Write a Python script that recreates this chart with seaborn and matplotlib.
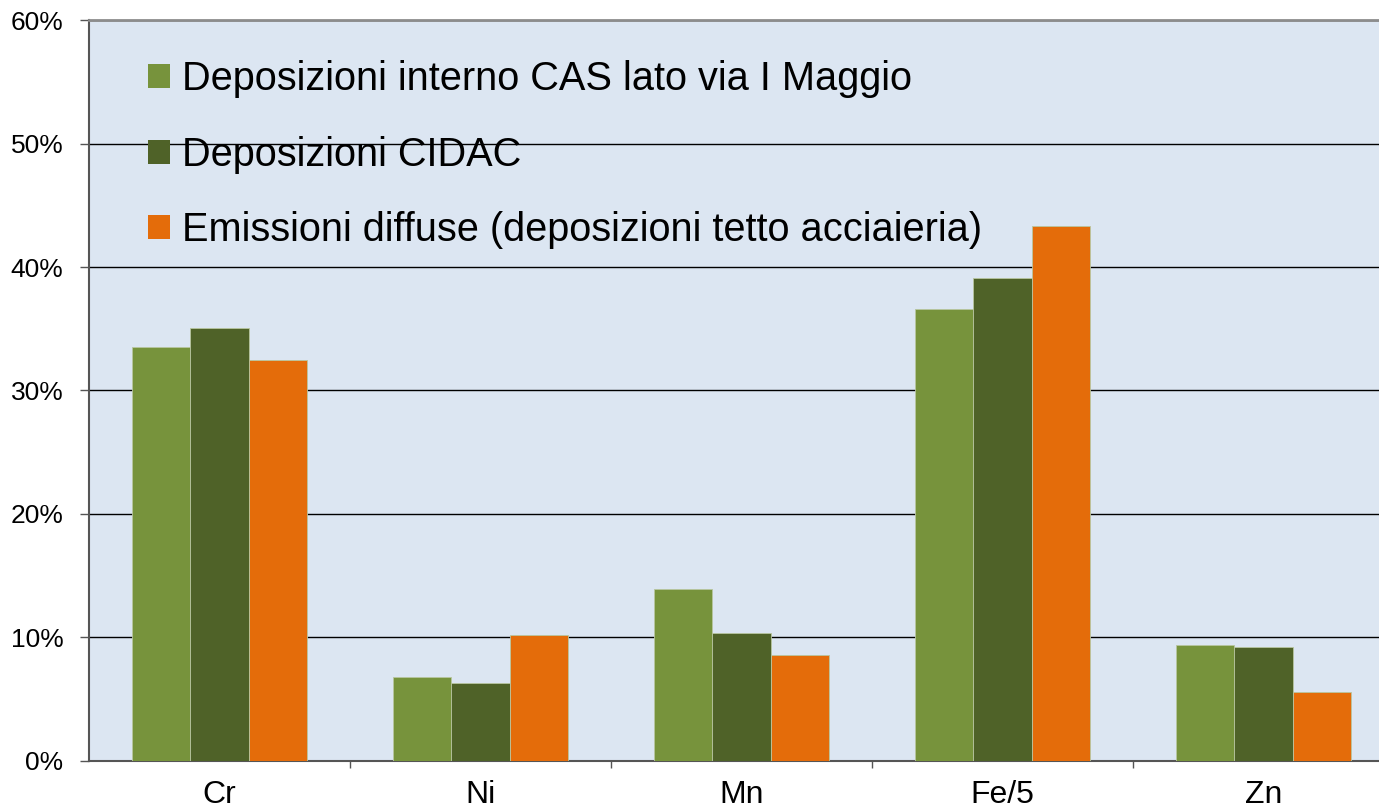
import pandas as pd
import matplotlib.pyplot as plt
import seaborn as sns
from matplotlib.ticker import PercentFormatter, FixedLocator

# ------------------------------
# Data
# ------------------------------
elements = ["Cr", "Ni", "Mn", "Fe/5", "Zn"]
series = [
    "Deposizioni interno CAS lato via I Maggio",
    "Deposizioni CIDAC",
    "Emissioni diffuse (deposizioni tetto acciaieria)",
]
cas = [33.5, 6.8, 13.9, 36.6, 9.4]
cidac = [35.1, 6.3, 10.4, 39.1, 9.2]
tetto = [32.5, 10.2, 8.6, 43.3, 5.6]

colors = ["#77933C", "#4F6228", "#E46C0A"]

df = pd.DataFrame({
    "Elemento": elements * 3,
    "Serie": [series[0]] * 5 + [series[1]] * 5 + [series[2]] * 5,
    "Valore": cas + cidac + tetto,
})

# ------------------------------
# Plot
# ------------------------------
sns.set_style("white")
plt.rcParams["font.family"] = ["Liberation Sans", "DejaVu Sans"]
plt.rcParams["text.color"] = "black"

fig = plt.figure(figsize=(13.79, 8.11), dpi=100)
ax = fig.add_axes([0.0645, 0.0617, 0.9464, 0.9136])
ax.set_facecolor("#DCE6F2")

sns.barplot(
    data=df, x="Elemento", y="Valore", hue="Serie",
    hue_order=series, palette=colors, saturation=1, width=0.67, gap=0,
    edgecolor="#B8C6A0", linewidth=0.6, ax=ax, zorder=3,
)

ax.set_ylim(0, 60)
ax.set_xlim(-0.5, 4.5)
ax.set_yticks(range(0, 61, 10))
ax.yaxis.set_major_formatter(PercentFormatter(decimals=0))
ax.yaxis.grid(True, color="black", linewidth=1, zorder=0)
ax.set_axisbelow(True)

ax.set_xlabel("")
ax.set_ylabel("")
ax.tick_params(axis="y", labelsize=19, length=6.5, width=1, color="#555555",
               labelcolor="black", direction="out", left=True, pad=12)
ax.tick_params(axis="x", which="major", labelsize=23, length=0, pad=14,
               labelcolor="black")
ax.xaxis.set_minor_locator(FixedLocator([0.5, 1.5, 2.5, 3.5]))
ax.tick_params(axis="x", which="minor", length=5, width=1, color="#555555",
               direction="out", bottom=True)

for side in ["left", "bottom"]:
    ax.spines[side].set_color("#555555")
    ax.spines[side].set_linewidth(1.5)
ax.spines["top"].set_color("#8C8C8C")
ax.spines["top"].set_linewidth(2)
ax.spines["right"].set_visible(False)

leg = ax.legend(
    loc="upper left", bbox_to_anchor=(0.033, 0.9675), frameon=False,
    fontsize=28.6, handlelength=0.55, handleheight=0.55, handletextpad=0.3,
    labelspacing=0.95, borderaxespad=0, labelcolor="black",
)
for h in leg.legend_handles:
    h.set_edgecolor("none")

fig.savefig("out.png", dpi=100)
